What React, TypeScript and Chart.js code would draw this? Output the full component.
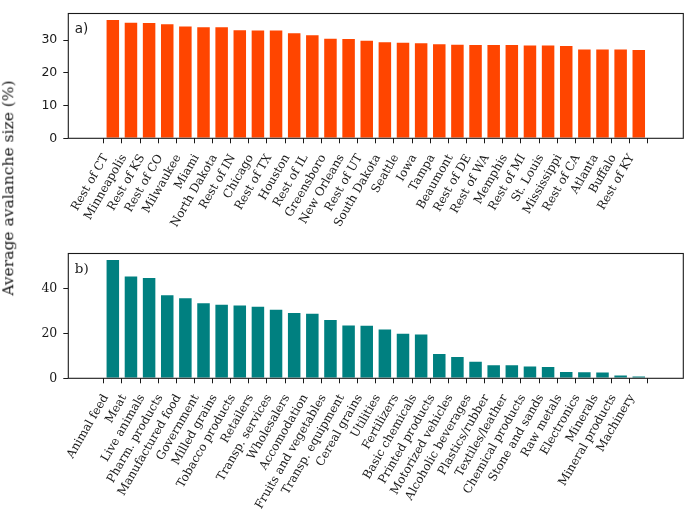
import React, { useEffect, useRef } from "react";
import { Chart, registerables } from "chart.js";

Chart.register(...registerables);

const cities = [
  "Rest of CT", "Minneapolis", "Rest of KS", "Rest of CO", "Milwaukee", "Miami",
  "North Dakota", "Rest of IN", "Chicago", "Rest of TX", "Houston", "Rest of IL",
  "Greensboro", "New Orleans", "Rest of UT", "South Dakota", "Seattle", "Iowa",
  "Tampa", "Beaumont", "Rest of DE", "Rest of WA", "Memphis", "Rest of MI",
  "St. Louis", "Mississippi", "Rest of CA", "Atlanta", "Buffalo", "Rest of KY",
];
const cityValues = [
  36.4, 35.6, 35.5, 35.1, 34.4, 34.2, 34.2, 33.3, 33.2, 33.2, 32.4, 31.8,
  30.7, 30.6, 30.1, 29.6, 29.5, 29.3, 29.0, 28.9, 28.8, 28.8, 28.8, 28.6,
  28.6, 28.5, 27.4, 27.4, 27.4, 27.3,
];
const cityTicks = [0, 10, 20, 30];

const sectors = [
  "Animal feed", "Meat", "Live animals", "Pharm. products", "Manufactured food",
  "Government", "Milled grains", "Tobacco products", "Retailers", "Transp. services",
  "Wholesalers", "Accomodation", "Fruits and vegetables", "Transp. equipment",
  "Cereal grains", "Utilities", "Fertilizers", "Basic chemicals", "Printed products",
  "Motorized vehicles", "Alcoholic beverages", "Plastics/rubber", "Textiles/leather",
  "Chemical products", "Stone and sands", "Raw metals", "Electronics", "Minerals",
  "Mineral products", "Machinery",
];
const sectorValues = [
  53.0, 45.7, 45.1, 37.4, 36.0, 33.8, 33.1, 32.8, 32.3, 30.9, 29.5, 29.2,
  26.4, 23.9, 23.8, 22.2, 20.3, 19.9, 11.2, 9.9, 7.8, 6.2, 6.2, 5.7,
  5.5, 3.2, 3.1, 3.0, 1.7, 1.3,
];
const sectorTicks = [0, 20, 40];

const INK = "#1a1a1a";
const SERIF = "'DejaVu Serif', serif";
const SANS = "'DejaVu Sans', sans-serif";
const XFONT = 11.8;

type PanelProps = {
  labels: string[];
  values: number[];
  yTicks: number[];
  yMax: number;
  color: string;
  edge: string;
  tag: string;
  tagFont: string;
  yTickFont: string;
  top: number;
  height: number;
};

function Panel(props: PanelProps) {
  const ref = useRef<HTMLCanvasElement | null>(null);
  useEffect(() => {
    const canvas = ref.current;
    if (!canvas) return;
    const { labels, values, yTicks, yMax, color, edge, tag, tagFont, yTickFont, height } = props;
    const areaLeft = 68.3;
    const areaRight = 683.3;
    const areaTop = 1.7;
    const areaBottom = 138.3;

    const framePlugin = {
      id: "frame",
      afterDraw(chart: any) {
        const { ctx, chartArea } = chart;
        ctx.save();
        ctx.strokeStyle = INK;
        ctx.lineWidth = 1.1;
        ctx.strokeRect(
          chartArea.left,
          chartArea.top,
          chartArea.right - chartArea.left,
          chartArea.bottom - chartArea.top
        );
        ctx.fillStyle = INK;
        ctx.font = `13.5px ${tagFont}`;
        ctx.textAlign = "left";
        ctx.textBaseline = "alphabetic";
        ctx.fillText(tag, chartArea.left + 6.5, chartArea.top + 19.5);

        // rotated category labels (60 degrees), text end anchored near each tick
        const xs = chart.scales.x;
        ctx.font = `${XFONT}px ${SERIF}`;
        ctx.textAlign = "right";
        ctx.textBaseline = "alphabetic";
        const ang = (60 * Math.PI) / 180;
        labels.forEach((lab, i) => {
          const px = xs.getPixelForValue(i);
          const X = px - 4.3;
          const Y = chartArea.bottom + 18.7;
          ctx.save();
          ctx.translate(X, Y);
          ctx.rotate(-ang);
          ctx.fillText(lab, 0, 0);
          ctx.restore();
        });
        ctx.restore();
      },
    };

    const chart = new Chart(canvas, {
      type: "bar",
      data: {
        datasets: [
          {
            data: values.map((v, i) => ({ x: i, y: v })),
            backgroundColor: color,
            borderColor: edge,
            borderWidth: 1,
            barPercentage: 0.8,
            categoryPercentage: 1,
          },
        ],
      },
      options: {
        responsive: false,
        animation: false,
        events: [],
        layout: {
          padding: { left: 0, right: 685 - areaRight, top: areaTop, bottom: 0 },
        },
        plugins: {
          legend: { display: false },
          tooltip: { enabled: false },
        },
        scales: {
          x: {
            type: "linear",
            min: -1.89,
            max: 30.89,
            afterBuildTicks: (s: any) => {
              s.ticks = labels.map((_, i) => ({ value: i }));
            },
            afterFit: (s: any) => {
              s.height = height - areaBottom;
            },
            grid: {
              display: true,
              drawOnChartArea: false,
              drawTicks: true,
              tickLength: 5,
              tickColor: INK,
              tickWidth: 1,
            },
            border: { display: false },
            ticks: {
              display: false,
              autoSkip: false,
            },
          },
          y: {
            min: 0,
            max: yMax,
            afterBuildTicks: (s: any) => {
              s.ticks = yTicks.map((v) => ({ value: v }));
            },
            afterFit: (s: any) => {
              s.width = areaLeft;
            },
            grid: {
              display: true,
              drawOnChartArea: false,
              drawTicks: true,
              tickLength: 5,
              tickColor: INK,
              tickWidth: 1,
            },
            border: { display: false },
            ticks: {
              padding: 6,
              color: INK,
              font: { family: yTickFont, size: 12.5 },
            },
          },
        },
      },
      plugins: [framePlugin],
    } as any);
    return () => chart.destroy();
  }, []);
  return (
    <canvas
      ref={ref}
      width={685}
      height={props.height}
      style={{ position: "absolute", left: 0, top: props.top, width: 685, height: props.height }}
    />
  );
}

export default function App() {
  return (
    <div style={{ position: "absolute", left: 0, top: 0, width: 685, height: 513, background: "#ffffff" }}>
      <Panel
        labels={cities}
        values={cityValues}
        yTicks={cityTicks}
        yMax={38.1}
        color="#ff4500"
        edge="rgba(255,255,255,0.6)"
        tag="a)"
        tagFont={SANS}
        yTickFont={SANS}
        top={0}
        height={240}
      />
      <Panel
        labels={sectors}
        values={sectorValues}
        yTicks={sectorTicks}
        yMax={55.5}
        color="#008080"
        edge="rgba(255,255,255,0.6)"
        tag="b)"
        tagFont={SERIF}
        yTickFont={SERIF}
        top={240}
        height={273}
      />
      <div
        style={{
          position: "absolute",
          left: 9,
          top: 188,
          transform: "translate(-50%, -50%) rotate(-90deg)",
          whiteSpace: "nowrap",
          fontFamily: SERIF,
          fontSize: 15.5,
          color: INK,
          lineHeight: 1,
        }}
      >
        Average avalanche size (%)
      </div>
    </div>
  );
}
